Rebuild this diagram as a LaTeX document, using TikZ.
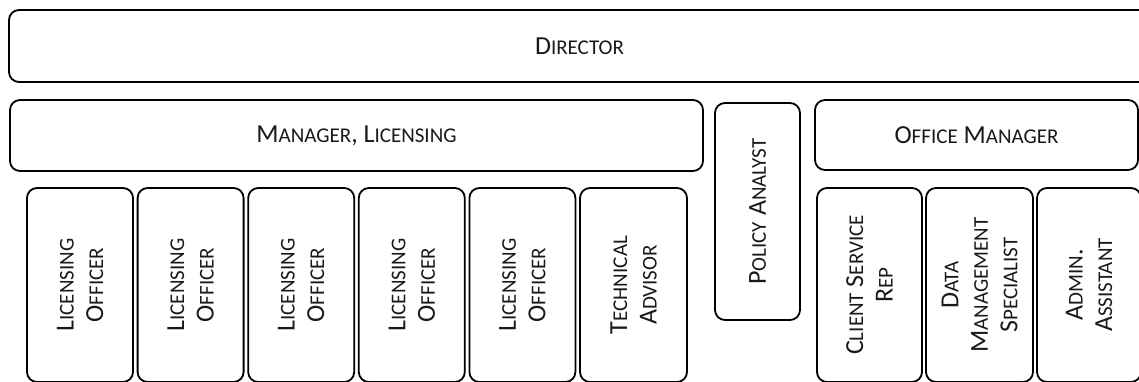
\documentclass[tikz,border=0pt]{standalone}
\usepackage{fontspec}
\setmainfont{Carlito}
\newcommand\sm[1]{{\fontsize{21pt}{21pt}\selectfont #1}}
\begin{document}
\begin{tikzpicture}[x=1pt,y=-1pt,
  box/.style={draw=black, line width=1.8pt, rounded corners=10pt, inner sep=0pt,
    font=\fontsize{26pt}{29.5pt}\selectfont, align=center, text=black!90},
  vbox/.style={box, rotate=90}]
\clip (0,0) rectangle (1139,381);
\fill[white] (0,0) rectangle (1139,381);
% top rows
\node[box, minimum width=1141pt, minimum height=72pt] (dir) at (579.5,46) {D\sm{IRECTOR}};
\node[box, minimum width=693pt, minimum height=71pt] (mgr) at (356.5,135.5) {M\sm{ANAGER}, L\sm{ICENSING}};
\node[vbox, minimum width=217pt, minimum height=85pt] (pol) at (757.5,211.5) {P\sm{OLICY} A\sm{NALYST}};
\node[box, minimum width=323pt, minimum height=70pt] (off) at (976.5,135) {O\sm{FFICE} M\sm{ANAGER}};
% licensing officers
\foreach \i/\x in {1/80, 2/190.6, 3/301.2, 4/411.8, 5/522.4}{
  \node[vbox, minimum width=194pt, minimum height=106pt] (lo\i) at (\x,285) {L\sm{ICENSING}\\O\sm{FFICER}};
}
\node[vbox, minimum width=194pt, minimum height=107pt] (tech) at (633.5,285) {T\sm{ECHNICAL}\\A\sm{DVISOR}};
% office staff
\node[vbox, minimum width=194pt, minimum height=105pt] (csr) at (869.5,285) {C\sm{LIENT} S\sm{ERVICE}\\R\sm{EP}};
\node[vbox, minimum width=194pt, minimum height=107pt] (dms) at (979.5,285) {D\sm{ATA}\\M\sm{ANAGEMENT}\\S\sm{PECIALIST}};
\node[vbox, minimum width=194pt, minimum height=104pt] (adm) at (1089,285) {A\sm{DMIN}.\\A\sm{SSISTANT}};
\end{tikzpicture}
\end{document}
